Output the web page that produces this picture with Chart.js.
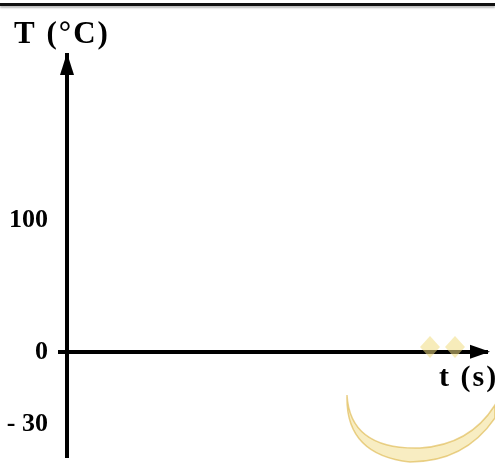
<!DOCTYPE html>
<html>
<head>
<meta charset="utf-8">
<script src="https://cdn.jsdelivr.net/npm/chart.js@4"></script>
<style>
    body { margin: 0; background: #fff; overflow: hidden; }
    #wrap { position: relative; width: 495px; height: 466px; }
    #topLine { position: absolute; left: 0; right: 0; top: 3px; height: 3px; background: #111; box-shadow: 0 2px 2px #bbb; }
</style>
</head>
<body>
<div id="wrap">
    <div id="topLine"></div>
    <canvas id="myChart"></canvas>
</div>
<script>
// sketch axes only, no data series; tick positions follow the (not to scale) drawing
const yTickValues = [-55, 0, 100];
const yTickLabels = ['- 30', '0', '100'];
const yTitle = 'T (°C)';
const xTitle = 't (s)';
const yRange = [-79, 225];
const xRange = [0, 1];

const serif = '"Liberation Serif", "Times New Roman", serif';

// arrows, axis titles and the faint watermark
const sketchPlugin = {
    id: 'sketch',
    afterDraw(chart) {
        const { ctx, chartArea, scales } = chart;
        const x0 = chartArea.left;
        const y0 = scales.y.getPixelForValue(0);
        ctx.save();

        // watermark crescent
        ctx.fillStyle = 'rgba(240, 215, 120, 0.45)';
        ctx.strokeStyle = 'rgba(220, 180, 70, 0.6)';
        ctx.lineWidth = 1.5;
        ctx.beginPath();
        ctx.moveTo(347, 395);
        ctx.quadraticCurveTo(350, 450, 420, 448);
        ctx.quadraticCurveTo(470, 445, 495, 405);
        ctx.lineTo(495, 418);
        ctx.quadraticCurveTo(465, 462, 410, 462);
        ctx.quadraticCurveTo(345, 455, 347, 395);
        ctx.fill();
        ctx.stroke();
        ctx.fillStyle = 'rgba(240, 220, 130, 0.55)';
        [[430, 347], [455, 347]].forEach(([cx, cy]) => {
            ctx.beginPath();
            ctx.moveTo(cx - 10, cy);
            ctx.lineTo(cx, cy - 11);
            ctx.lineTo(cx + 10, cy);
            ctx.lineTo(cx, cy + 11);
            ctx.closePath();
            ctx.fill();
        });

        ctx.fillStyle = '#000';
        // y arrow head
        ctx.beginPath();
        ctx.moveTo(x0, chartArea.top - 2);
        ctx.lineTo(x0 - 7, chartArea.top + 20);
        ctx.lineTo(x0 + 7, chartArea.top + 20);
        ctx.closePath();
        ctx.fill();
        // x arrow head
        ctx.beginPath();
        ctx.moveTo(chartArea.right + 2, y0);
        ctx.lineTo(chartArea.right - 18, y0 - 7);
        ctx.lineTo(chartArea.right - 18, y0 + 7);
        ctx.closePath();
        ctx.fill();

        ctx.textBaseline = 'middle';
        ctx.textAlign = 'left';
        ctx.font = 'bold 31px ' + serif;
        ctx.letterSpacing = '2px';
        ctx.fillText(yTitle, 14, 35);
        ctx.font = 'bold 30px ' + serif;
        ctx.fillText(xTitle, 439, 378);
        ctx.restore();
    }
};

const chart = new Chart(document.getElementById('myChart'), {
    type: 'scatter',
    data: { datasets: [{ data: [] }] },
    options: {
        responsive: true,
        maintainAspectRatio: false,
        animation: false,
        layout: { padding: { top: 55, right: 7, bottom: 10, left: 0 } },
        plugins: { legend: { display: false }, tooltip: { enabled: false } },
        scales: {
            x: { display: false, min: xRange[0], max: xRange[1] },
            y: {
                min: yRange[0],
                max: yRange[1],
                afterFit: s => { s.width = 67; s.paddingTop = 0; s.paddingBottom = 0; },
                afterBuildTicks: s => { s.ticks = yTickValues.map(v => ({ value: v })); },
                border: { display: true, color: '#000', width: 4 },
                grid: {
                    color: c => (c.tick && c.tick.value === 0 ? '#000' : 'rgba(0,0,0,0)'),
                    lineWidth: 4,
                    tickLength: 9
                },
                ticks: {
                    color: '#000',
                    padding: 10,
                    font: { family: serif, size: 26, weight: 'bold' },
                    callback: (v, i) => yTickLabels[i]
                }
            }
        }
    },
    plugins: [sketchPlugin]
});
</script>
</body>
</html>
